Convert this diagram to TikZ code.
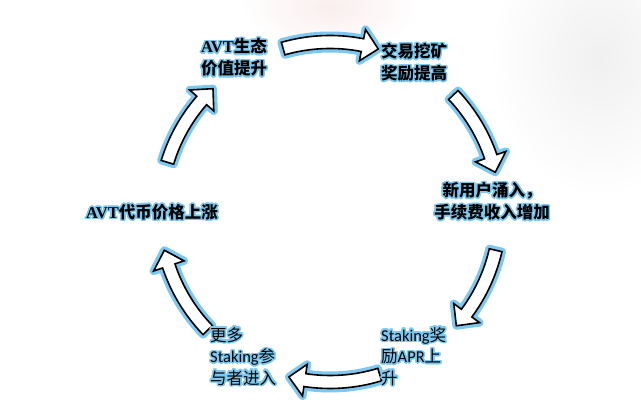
\documentclass[tikz,border=0pt]{standalone}
\usepackage{fontspec}
\usepackage[copies]{contour}
\setmainfont{Liberation Serif}
\newfontfamily\cjk{Noto Sans CJK SC}
\newfontfamily\carl{Carlito}
\definecolor{glow}{RGB}{125,200,240}
\definecolor{blotpink}{RGB}{250,238,238}
\definecolor{blotgray}{RGB}{240,240,240}
\contourlength{1.5pt}
\contournumber{24}
\newcommand\gl[1]{\contour{glow}{#1}}
\newcommand\cycarrow[3]{%
  \path[arrowbody] (#1:176.5pt) arc[start angle=#1,end angle=#2,radius=176.5pt]
    -- (#2:186pt) -- (#3:170pt) -- (#2:154pt) -- (#2:163.5pt)
    arc[start angle=#2,end angle=#1,radius=163.5pt] -- cycle;}
\tikzset{
  arrowbody/.style={preaction={draw=glow,line width=8pt,line join=round},
    fill=white,draw=black,line width=1.6pt,line join=miter},
  lbl/.style={font=\fontsize{16.5}{22}\selectfont,inner sep=0pt,align=center},
  lbll/.style={font=\fontsize{16.5}{21.5}\selectfont,inner sep=0pt,align=left,anchor=west}
}
\begin{document}
\begin{tikzpicture}[x=1pt,y=1pt]
\useasboundingbox (0,0) rectangle (641,417);
\fill[white] (0,0) rectangle (641,417);
\shade[inner color=blotpink,outer color=white] (330,410) ellipse[x radius=90pt,y radius=45pt];
\shade[inner color=blotgray,outer color=white] (600,360) ellipse[x radius=110pt,y radius=140pt];
\begin{scope}[shift={(330,205)}]
  \cycarrow{106}{79}{73.5}
  \cycarrow{43.5}{19}{13.5}
  \cycarrow{-13}{-36.5}{-42}
  \cycarrow{-73}{-98.5}{-104}
  \cycarrow{224}{198.5}{193}
  \cycarrow{163}{139}{133.5}
\end{scope}
\node[lbl] (t1) at (234,359) {\gl{\bfseries AVT\cjk 生态}\\\gl{\bfseries\cjk 价值提升}};
\node[lbl] (t2) at (414,354) {\gl{\bfseries\cjk 交易挖矿}\\\gl{\bfseries\cjk 奖励提高}};
\node[lbl] (t3) at (492,215) {\gl{\bfseries\cjk 新用户涌入，}\\\gl{\bfseries\cjk 手续费收入增加}};
\node[lbl] (t4) at (152,204) {\gl{\bfseries AVT\cjk 代币价格上涨}};
\node[lbll] (t5) at (381,60) {\gl{\carl Staking\cjk 奖}\\\gl{\cjk 励\carl APR\cjk 上}\\\gl{\cjk 升}};
\node[lbll] (t6) at (210,60) {\gl{\cjk 更多}\\\gl{\carl Staking\cjk 参}\\\gl{\cjk 与者进入}};
\end{tikzpicture}
\end{document}
